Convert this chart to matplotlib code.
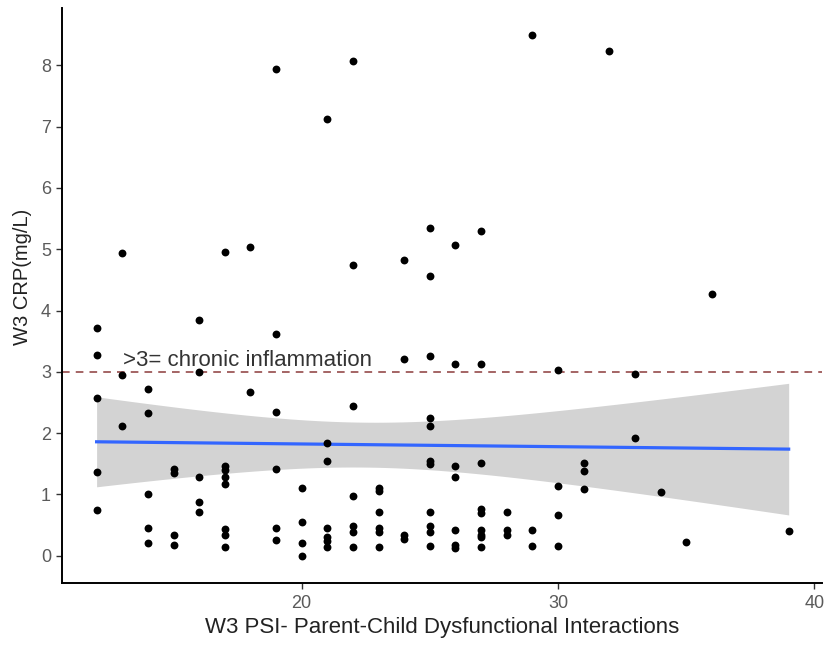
import numpy as np
import matplotlib.pyplot as plt

plt.rcParams['font.family'] = ['Liberation Sans', 'DejaVu Sans']

# PSI parent-child dysfunctional interaction score and CRP (mg/L), one entry per child
psi = ([12] * 5 + [13] * 3 + [14] * 5 + [15] * 4 + [16] * 5 + [17] * 8 + [18] * 2 +
       [19] * 6 + [20] * 4 + [21] * 7 + [22] * 7 + [23] * 6 + [24] * 4 + [25] * 11 +
       [26] * 7 + [27] * 9 + [28] * 3 + [29] * 3 + [30] * 4 + [31] * 3 + [32] +
       [33] * 2 + [34] + [35] + [36] + [39])
crp = [3.72, 3.28, 2.57, 1.36, 0.75,
       4.94, 2.94, 2.11,
       2.72, 2.33, 1.01, 0.45, 0.21,
       1.41, 1.35, 0.33, 0.18,
       3.84, 2.99, 1.28, 0.87, 0.72,
       4.95, 1.47, 1.40, 1.29, 1.17, 0.44, 0.34, 0.15,
       5.03, 2.67,
       7.94, 3.62, 2.35, 1.42, 0.45, 0.26,
       1.10, 0.55, 0.21, 0.00,
       7.12, 1.84, 1.55, 0.46, 0.30, 0.24, 0.14,
       8.07, 4.74, 2.45, 0.97, 0.48, 0.39, 0.14,
       1.10, 1.06, 0.71, 0.46, 0.39, 0.14,
       4.83, 3.21, 0.34, 0.27,
       5.35, 4.57, 3.25, 2.25, 2.11, 1.55, 1.50, 0.72, 0.49, 0.39, 0.16,
       5.07, 3.13, 1.46, 1.28, 0.42, 0.18, 0.13,
       5.30, 3.13, 1.52, 0.76, 0.70, 0.42, 0.34, 0.30, 0.14,
       0.71, 0.42, 0.34,
       8.49, 0.42, 0.16,
       3.03, 1.14, 0.67, 0.16,
       1.51, 1.38, 1.09,
       8.24,
       2.97, 1.92,
       1.04,
       0.23,
       4.27,
       0.41]

threshold = 3
threshold_label = '>3= chronic inflammation'

x = np.array(psi, dtype=float)
y = np.array(crp)

# linear fit with 95% confidence band
n = len(x)
slope, intercept = np.polyfit(x, y, 1)
grid = np.linspace(x.min(), x.max(), 80)
fit = intercept + slope * grid
resid = y - (intercept + slope * x)
s = np.sqrt(np.sum(resid ** 2) / (n - 2))
se = s * np.sqrt(1 / n + (grid - x.mean()) ** 2 / np.sum((x - x.mean()) ** 2))
t = 1.98
lo, hi = fit - t * se, fit + t * se

fig = plt.figure(figsize=(8.29, 6.45), dpi=100)
ax = fig.add_axes([62 / 829, 62 / 645, 760 / 829, 575 / 645])

ax.fill_between(grid, lo, hi, color='#d3d3d3', lw=0, zorder=1)
ax.scatter(x, y, s=32, color='black', lw=0, zorder=3)
ax.plot(grid, fit, color='#3366ff', lw=2.3, zorder=2)
ax.axhline(threshold, color='#8b3a3a', lw=1.1, ls=(0, (5, 4)), zorder=2)
ax.text(13.03, threshold + 0.09, threshold_label, fontsize=16, color='#333333',
        ha='left', va='baseline')

ax.set_xlim(10.65, 40.3)
ax.set_ylim(-0.445, 8.935)
ax.set_xticks([20, 30, 40])
ax.set_yticks(range(0, 9))

ax.set_xlabel('W3 PSI- Parent-Child Dysfunctional Interactions', fontsize=16,
              color='#222222', labelpad=3)
ax.set_ylabel('W3 CRP(mg/L)', fontsize=14.5, color='#222222')
ax.yaxis.set_label_coords(-0.04, 0.532)

for side in ['top', 'right']:
    ax.spines[side].set_visible(False)
for side in ['left', 'bottom']:
    ax.spines[side].set_linewidth(1.4)
ax.tick_params(colors='#333333', labelcolor='#5a5a5a', labelsize=13,
               length=4, width=1)
ax.tick_params(axis='x', pad=5)
ax.tick_params(axis='y', pad=4)

fig.savefig('out.png', dpi=100)
